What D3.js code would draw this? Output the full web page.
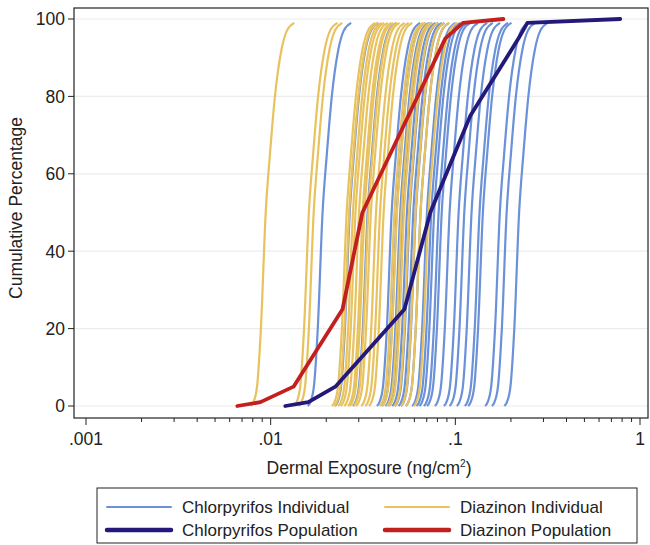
<!DOCTYPE html>
<html>
<head>
<meta charset="utf-8">
<script src="https://cdn.jsdelivr.net/npm/d3@7"></script>
<style>
  body { margin: 0; background: #fff; }
  svg { font-family: "Liberation Sans", Arial, sans-serif; }
</style>
</head>
<body>
<svg id="chart" width="650" height="545"></svg>
<script>
// individual curves: exposure (ng/cm2) at the 50th percentile
const chlorMedians = [0.0191, 0.0268, 0.0335, 0.0452, 0.0481, 0.0503, 0.0522, 0.0547, 0.0566,
  0.0592, 0.0611, 0.0648, 0.0702, 0.0741, 0.0768, 0.0812, 0.0844, 0.0931, 0.1042, 0.1118,
  0.1224, 0.1352, 0.1410, 0.1742, 0.1896, 0.2215];
const diazMedians = [0.0094, 0.0161, 0.0171, 0.0258, 0.0266, 0.0279, 0.0288, 0.0301, 0.0315,
  0.0322, 0.0338, 0.0349, 0.0372, 0.0391, 0.0409, 0.0468, 0.0483, 0.0511, 0.0527, 0.0562,
  0.0609, 0.0648, 0.0716];
// shape of one individual curve: offset from its median (decades) vs cumulative %
const shapeOffset = [-0.08, -0.066, -0.047, -0.026, 0, 0.023, 0.05, 0.085, 0.115, 0.155];
const shapePct = [0, 1, 5, 20, 50, 65, 80, 92, 97, 99];

// population curves
const popPct = [0, 1, 5, 25, 50, 75, 95, 99, 100];
const chlorPop = [0.0120, 0.0160, 0.0224, 0.0530, 0.0732, 0.1205, 0.2200, 0.2454, 0.782];
const diazPop = [0.0066, 0.0088, 0.0133, 0.0245, 0.0314, 0.0557, 0.0883, 0.1100, 0.182];

const yTicks = [0, 20, 40, 60, 80, 100];
const xTicks = [0.001, 0.01, 0.1, 1];
const xTickLabels = [".001", ".01", ".1", "1"];

const legendItems = [
  {label: "Chlorpyrifos Individual", color: "#6b91d8", w: 2},
  {label: "Diazinon Individual", color: "#e8c25e", w: 2},
  {label: "Chlorpyrifos Population", color: "#24197a", w: 4.5},
  {label: "Diazinon Population", color: "#c41f1f", w: 4.5}
];

const svg = d3.select("#chart");
const box = {left: 74, right: 648, top: 8, bottom: 418};

const x = d3.scaleLog().domain([0.001, 1]).range([86, 640]);
const y = d3.scaleLinear().domain([0, 100]).range([406, 19]);

// gridlines
svg.append("g").selectAll("line")
  .data(yTicks).enter().append("line")
  .attr("x1", box.left).attr("x2", box.right)
  .attr("y1", d => y(d)).attr("y2", d => y(d))
  .style("stroke", "#ececec").style("stroke-width", 1.2);

const line = d3.line().x(d => d[0]).y(d => d[1]).curve(d3.curveMonotoneX);

const indiv = (med) => shapeOffset.map((o, i) => [x(med * Math.pow(10, o)), y(shapePct[i])]);

const plot = svg.append("g");
plot.selectAll(".chl").data(chlorMedians).enter().append("path")
  .attr("class", "chl")
  .attr("d", d => line(indiv(d)))
  .style("fill", "none").style("stroke", legendItems[0].color).style("stroke-width", 2.2);

plot.selectAll(".dia").data(diazMedians).enter().append("path")
  .attr("class", "dia")
  .attr("d", d => line(indiv(d)))
  .style("fill", "none").style("stroke", legendItems[1].color).style("stroke-width", 2.2);

const popLine = d3.line().x(d => x(d[0])).y(d => y(d[1]));
plot.append("path")
  .attr("d", popLine(diazPop.map((v, i) => [v, popPct[i]])))
  .style("fill", "none").style("stroke", legendItems[3].color)
  .style("stroke-width", 3.8).style("stroke-linejoin", "round").style("stroke-linecap", "round");
plot.append("path")
  .attr("d", popLine(chlorPop.map((v, i) => [v, popPct[i]])))
  .style("fill", "none").style("stroke", legendItems[2].color)
  .style("stroke-width", 3.8).style("stroke-linejoin", "round").style("stroke-linecap", "round");

// frame
svg.append("rect")
  .attr("x", box.left).attr("y", box.top)
  .attr("width", box.right - box.left).attr("height", box.bottom - box.top)
  .style("fill", "none").style("stroke", "#222").style("stroke-width", 1.2);

// y axis
const yAxis = svg.append("g");
yAxis.selectAll("line").data(yTicks).enter().append("line")
  .attr("x1", box.left - 6).attr("x2", box.left)
  .attr("y1", d => y(d)).attr("y2", d => y(d))
  .style("stroke", "#222");
yAxis.selectAll("text").data(yTicks).enter().append("text")
  .attr("x", box.left - 9).attr("y", d => y(d)).attr("dy", "0.36em")
  .attr("text-anchor", "end").style("font-size", "17.5px").style("fill", "#222")
  .text(d => d);

// x axis
const minor = [];
xTicks.slice(0, -1).forEach(t => d3.range(2, 10).forEach(k => minor.push(t * k)));
const xAxis = svg.append("g");
xAxis.selectAll(".minor").data(minor).enter().append("line")
  .attr("x1", d => x(d)).attr("x2", d => x(d))
  .attr("y1", box.bottom).attr("y2", box.bottom + 4)
  .style("stroke", "#222");
xAxis.selectAll(".major").data(xTicks).enter().append("line")
  .attr("x1", d => x(d)).attr("x2", d => x(d))
  .attr("y1", box.bottom).attr("y2", box.bottom + 7)
  .style("stroke", "#222");
xAxis.selectAll("text").data(xTicks).enter().append("text")
  .attr("x", d => x(d)).attr("y", 445)
  .attr("text-anchor", "middle").style("font-size", "17.5px").style("fill", "#222")
  .text((d, i) => xTickLabels[i]);

// titles
const xt = svg.append("text").attr("x", 369).attr("y", 474)
  .attr("text-anchor", "middle").style("font-size", "17.5px").style("fill", "#222");
xt.append("tspan").text("Dermal Exposure (ng/cm");
xt.append("tspan").attr("dy", -7).style("font-size", "10px").text("2");
xt.append("tspan").attr("dy", 7).text(")");

svg.append("text")
  .attr("transform", "translate(22,208) rotate(-90)")
  .attr("text-anchor", "middle").style("font-size", "17.5px").style("fill", "#222")
  .text("Cumulative Percentage");

// legend
const lg = svg.append("g");
lg.append("rect").attr("x", 97).attr("y", 488).attr("width", 540).attr("height", 55)
  .style("fill", "#fff").style("stroke", "#222").style("stroke-width", 1);
const colX = [107, 385];
const rowY = [507, 530];
legendItems.forEach((it, i) => {
  const cx = colX[i % 2], cy = rowY[Math.floor(i / 2)];
  lg.append("line").attr("x1", cx).attr("x2", cx + 64).attr("y1", cy).attr("y2", cy)
    .style("stroke", it.color).style("stroke-width", it.w).style("stroke-linecap", "round");
  lg.append("text").attr("x", cx + 75).attr("y", cy).attr("dy", "0.36em")
    .style("font-size", "17px").style("fill", "#222").text(it.label);
});
</script>
</body>
</html>
